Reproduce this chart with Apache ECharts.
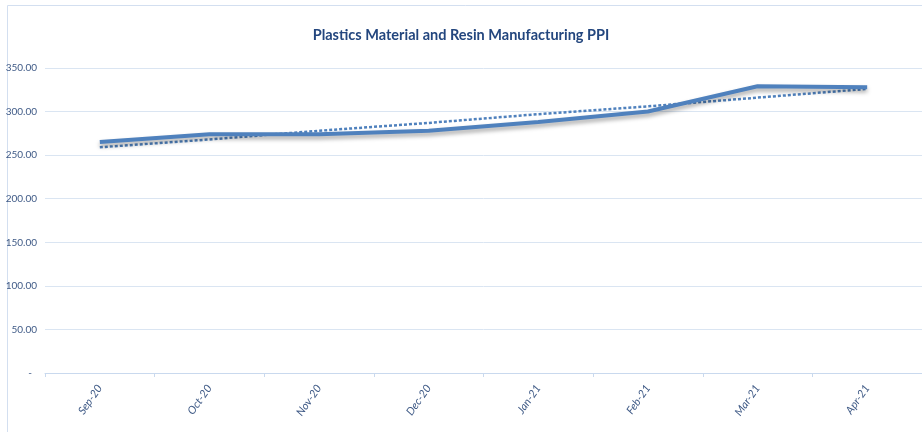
<!DOCTYPE html>
<html>
<head>
<meta charset="utf-8">
<script src="https://cdn.jsdelivr.net/npm/echarts@6/dist/echarts.min.js"></script>
<style>
	html, body { margin: 0; padding: 0; background: #fff; }
	#chart { width: 922px; height: 432px; }
</style>
</head>
<body>
<div id="chart"></div>
<script>
var months = [ 'Sep-20', 'Oct-20', 'Nov-20', 'Dec-20', 'Jan-21', 'Feb-21', 'Mar-21', 'Apr-21' ];
var ppi = [ 265, 274, 274, 278, 288, 300, 329, 328 ];
var trend = [ 259, 268, 278, 287, 297, 306, 316, 326 ];
var yTicks = [ 0, 50, 100, 150, 200, 250, 300, 350 ];

var textColor = '#3f5a86';
var gridColor = '#dae5f2';
var font = 'Lato';

var myChart = echarts.init(document.getElementById('chart'));

var option = {
	animation : false,
	title : {
		text : 'Plastics Material and Resin Manufacturing PPI',
		left : 'center',
		top : 23,
		textStyle : {
			fontFamily : font,
			fontSize : 14.5,
			fontWeight : 'bold',
			color : '#23467e'
		}
	},
	graphic : [ {
		type : 'rect',
		shape : { x : 7.5, y : 5.5, width : 930, height : 440 },
		style : { fill : 'none', stroke : '#d3dff0', lineWidth : 1 },
		silent : true
	} ],
	grid : {
		left : 45,
		right : 0,
		top : 68,
		bottom : 59
	},
	xAxis : {
		type : 'category',
		data : months,
		boundaryGap : true,
		axisLine : { lineStyle : { color : '#c9d9ee', width : 1 } },
		axisTick : { show : true, length : 4, lineStyle : { color : '#c9d9ee' } },
		axisLabel : {
			rotate : 55,
			margin : 13,
			color : textColor,
			fontFamily : font,
			fontSize : 11,
			fontStyle : 'italic'
		}
	},
	yAxis : {
		type : 'value',
		min : yTicks[0],
		max : yTicks[yTicks.length - 1],
		interval : 50,
		axisLine : { show : false },
		axisTick : { show : false },
		splitLine : { lineStyle : { color : gridColor, width : 1 } },
		axisLabel : {
			margin : 8,
			color : textColor,
			fontFamily : font,
			fontSize : 10,
			formatter : function(v) {
				return v === 0 ? '-  ' : v.toFixed(2);
			}
		}
	},
	series : [ {
		name : 'PPI',
		type : 'line',
		data : ppi,
		symbol : 'none',
		z : 3,
		lineStyle : {
			color : '#4f81bd',
			width : 4,
			shadowColor : 'rgba(0,0,0,0.35)',
			shadowBlur : 4,
			shadowOffsetY : 3
		}
	}, {
		name : 'Trend',
		type : 'line',
		data : trend,
		symbol : 'none',
		z : 2,
		lineStyle : {
			color : '#4f81bd',
			width : 2.5,
			type : [ 3, 2 ]
		}
	} ]
};

myChart.setOption(option);
</script>
</body>
</html>
